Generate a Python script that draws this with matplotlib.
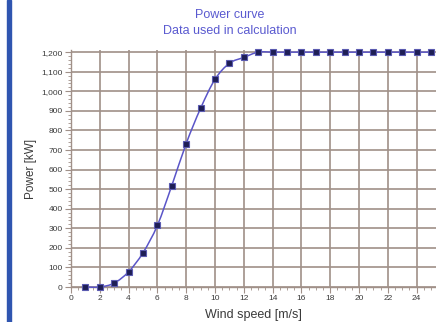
import matplotlib
matplotlib.use("Agg")
import matplotlib.pyplot as plt
import matplotlib.ticker as ticker
import matplotlib.patches as patches
from matplotlib.path import Path

plt.rcParams['font.family'] = ['Liberation Sans', 'DejaVu Sans']

# power curve
wind_speed = [1, 2, 3, 4, 5, 6, 7, 8, 9, 10, 11, 12, 13, 14, 15, 16, 17, 18,
              19, 20, 21, 22, 23, 24, 25]
power_kw = [0, 0, 20, 78, 175, 315, 518, 733, 913, 1061, 1143, 1173, 1200,
            1200, 1200, 1200, 1200, 1200, 1200, 1200, 1200, 1200, 1200, 1200, 1200]

title_lines = ["Power curve", "Data used in calculation"]

grid_c = '#a09088'
text_c = '#3a3a3a'
title_c = '#5a5ad0'


def smooth_path(xs, ys):
    # catmull-rom style bezier through the points (drawn as a curve, not resampled)
    n = len(xs)
    verts = [(xs[0], ys[0])]
    codes = [Path.MOVETO]
    for i in range(n - 1):
        i0 = max(i - 1, 0)
        i3 = min(i + 2, n - 1)
        c1 = (xs[i] + (xs[i + 1] - xs[i0]) / 6, ys[i] + (ys[i + 1] - ys[i0]) / 6)
        c2 = (xs[i + 1] - (xs[i3] - xs[i]) / 6, ys[i + 1] - (ys[i3] - ys[i]) / 6)
        verts += [c1, c2, (xs[i + 1], ys[i + 1])]
        codes += [Path.CURVE4] * 3
    return Path(verts, codes)


fig = plt.figure(figsize=(4.36, 3.22), dpi=100)
fig.patch.set_facecolor('white')

# blue bar on the left edge
fig.patches.append(patches.Rectangle((7/436, 0), 4/436, 1, transform=fig.transFigure,
                                     color='#2f55b0', zorder=0))

ax = fig.add_axes([71/436, 35/322, 365/436, 237/322])
curve = patches.PathPatch(smooth_path(wind_speed, power_kw), fill=False,
                          ec='#5a55c8', lw=1.1, zorder=3, clip_on=False)
ax.add_patch(curve)
ax.plot(wind_speed, power_kw, ls='none', marker='s', ms=3.8, mfc='#1e1e55',
        mec='#5a5ab0', mew=0.8, zorder=4, clip_on=False)

ax.set_xlim(0, 25.35)
ax.set_ylim(0, 1211)
ax.xaxis.set_major_locator(ticker.MultipleLocator(2))
ax.xaxis.set_minor_locator(ticker.MultipleLocator(0.5))
ax.yaxis.set_major_locator(ticker.MultipleLocator(100))
ax.yaxis.set_minor_locator(ticker.MultipleLocator(20))
ax.yaxis.set_major_formatter(ticker.FuncFormatter(lambda v, p: '{:,.0f}'.format(v)))

ax.grid(True, which='major', color=grid_c, lw=1.2, zorder=1)
for s in ['top', 'right']:
    ax.spines[s].set_visible(False)
for s in ['left', 'bottom']:
    ax.spines[s].set_color(grid_c)
    ax.spines[s].set_linewidth(1.0)

ax.tick_params(which='major', length=4, width=0.8, color=grid_c, labelsize=6,
               labelcolor=text_c, pad=2)
ax.tick_params(which='minor', length=2, width=0.6, color=grid_c)

ax.set_xlabel("Wind speed [m/s]", fontsize=9, color=text_c, labelpad=5)
ax.set_ylabel("Power [kW]", fontsize=8.5, color=text_c, labelpad=3)

fig.text(0.526, 1 - 15/322, title_lines[0], ha='center', va='center',
         fontsize=9, color=title_c)
fig.text(0.526, 1 - 31/322, title_lines[1], ha='center', va='center',
         fontsize=9, color=title_c)

plt.savefig("out.png", dpi=100)
